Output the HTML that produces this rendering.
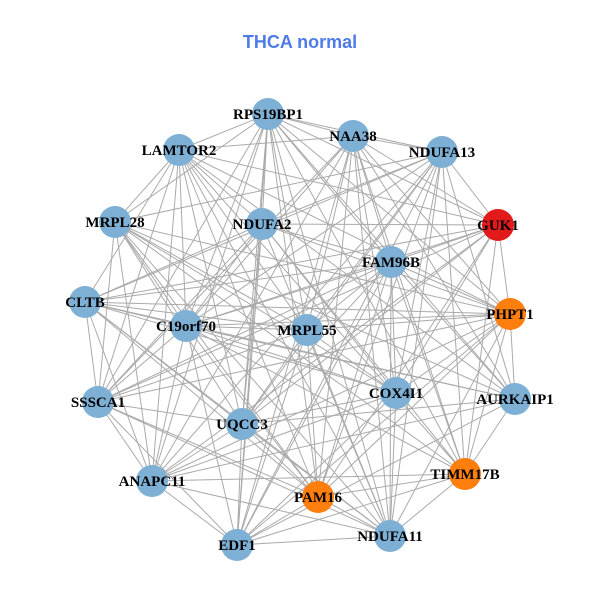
<!DOCTYPE html>
<html><head><meta charset="utf-8"><style>
html,body{margin:0;padding:0;background:#fff;width:600px;height:600px;overflow:hidden}
</style></head><body>
<svg id="g" width="600" height="600" xmlns="http://www.w3.org/2000/svg">
<text x="300" y="48" text-anchor="middle" font-family="Liberation Sans, sans-serif" font-weight="bold" font-size="18" fill="#4f7be9">THCA normal</text>
<g id="edges" stroke="#aaaaaa" stroke-width="1"></g>
<g id="nodes"></g>
<g id="labels" font-family="Liberation Serif, serif" font-weight="bold" font-size="15" fill="#000" text-anchor="middle"></g>
</svg>
<script>
var N=[["RPS19BP1",268,114,0],["NAA38",353,136,0],["NDUFA13",442,152,0],["LAMTOR2",179,150,0],["MRPL28",115,222,0],["NDUFA2",262,224,0],["GUK1",498,225,2],["FAM96B",391,262,0],["CLTB",85,302,0],["PHPT1",510,314,1],["C19orf70",186,326,0],["MRPL55",307,330,0],["COX4I1",396,393,0],["AURKAIP1",515,399,0],["SSSCA1",98,402,0],["UQCC3",242,424,0],["TIMM17B",465,474,1],["ANAPC11",152,481,0],["PAM16",318,497,1],["NDUFA11",390,536,0],["EDF1",237,545,0]];
var cols=["#7eb0d5","#ff7f0e","#e31a1c"];
var ns="http://www.w3.org/2000/svg",E=document.getElementById("edges"),Nd=document.getElementById("nodes"),L=document.getElementById("labels");
var s=7;function r(){s=(s*9301+49297)%233280;return s/233280;}
for(var i=0;i<N.length;i++)for(var j=i+1;j<N.length;j++){if(r()<0.75){var l=document.createElementNS(ns,"line");l.setAttribute("x1",N[i][1]);l.setAttribute("y1",N[i][2]);l.setAttribute("x2",N[j][1]);l.setAttribute("y2",N[j][2]);E.appendChild(l);}}
N.forEach(function(n){var c=document.createElementNS(ns,"circle");c.setAttribute("cx",n[1]);c.setAttribute("cy",n[2]);c.setAttribute("r",16);c.setAttribute("fill",cols[n[3]]);Nd.appendChild(c);
var t=document.createElementNS(ns,"text");t.setAttribute("x",n[1]);t.setAttribute("y",n[2]+5);t.textContent=n[0];L.appendChild(t);});
</script>
</body></html>
